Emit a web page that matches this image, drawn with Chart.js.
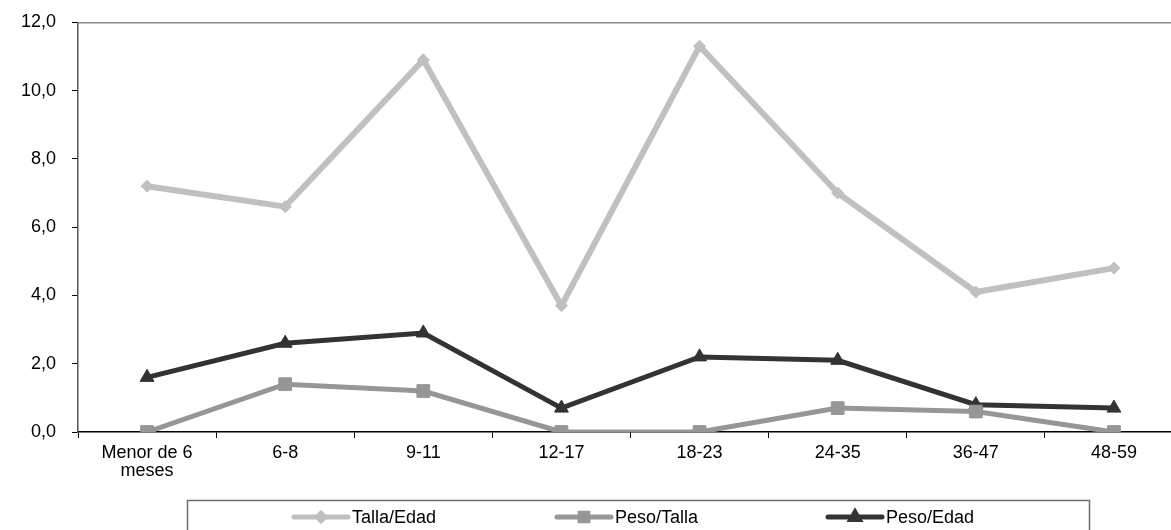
<!DOCTYPE html>
<html>
<head>
<meta charset="utf-8">
<script src="https://cdn.jsdelivr.net/npm/chart.js@4/dist/chart.umd.min.js"></script>
<style>
  html, body { margin: 0; padding: 0; overflow: hidden; background: #fff; }
  #wrap { position: relative; width: 1200px; height: 530px; }
</style>
</head>
<body>
<div id="wrap"><canvas id="c" width="1200" height="530"></canvas></div>
<script>
const categories = [["Menor de 6", "meses"], "6-8", "9-11", "12-17", "18-23", "24-35", "36-47", "48-59"];
const tallaEdad = [7.2, 6.6, 10.9, 3.7, 11.3, 7.0, 4.1, 4.8];
const pesoTalla = [0.0, 1.4, 1.2, 0.0, 0.0, 0.7, 0.6, 0.0];
const pesoEdad = [1.6, 2.6, 2.9, 0.7, 2.2, 2.1, 0.8, 0.7];
const seriesNames = ["Talla/Edad", "Peso/Talla", "Peso/Edad"];
const yTicks = [0, 2, 4, 6, 8, 10, 12];

const FONT = "'Liberation Sans', Arial, sans-serif";

const frame = {
  id: 'frame',
  afterDraw(chart) {
    const { ctx, chartArea } = chart;
    ctx.save();
    ctx.strokeStyle = '#8c8c8c';
    ctx.lineWidth = 1.5;
    ctx.beginPath();
    ctx.moveTo(chartArea.left, chartArea.top + 0.5);
    ctx.lineTo(chartArea.right, chartArea.top + 0.5);
    ctx.stroke();

    const bx = 187, by = 500, bw = 902, bh = 40;
    ctx.strokeStyle = '#6e6e6e';
    ctx.lineWidth = 1.5;
    ctx.strokeRect(bx + 0.5, by + 0.5, bw, bh);

    const items = [
      { x: 292, ds: chart.data.datasets[0] },
      { x: 555, ds: chart.data.datasets[1] },
      { x: 826, ds: chart.data.datasets[2] }
    ];
    const ly = 517;
    ctx.font = '18px ' + FONT;
    ctx.textBaseline = 'middle';
    ctx.textAlign = 'left';
    items.forEach(it => {
      const ds = it.ds;
      ctx.strokeStyle = ds.borderColor;
      ctx.lineWidth = 5;
      ctx.lineCap = 'round';
      ctx.beginPath();
      ctx.moveTo(it.x + 2, ly);
      ctx.lineTo(it.x + 56, ly);
      ctx.stroke();
      ctx.fillStyle = ds.pointBackgroundColor;
      ctx.strokeStyle = ds.pointBorderColor;
      Chart.helpers.drawPoint(ctx, {
        pointStyle: ds.pointStyle,
        radius: ds.pointRadius * 0.6,
        rotation: 0,
        borderWidth: 1
      }, it.x + 29, ly);
      ctx.fillStyle = '#000';
      ctx.fillText(ds.label, it.x + 60, ly + 1);
    });
    ctx.restore();
  }
};

new Chart(document.getElementById('c'), {
  type: 'line',
  data: {
    labels: categories,
    datasets: [
      {
        label: seriesNames[0], data: tallaEdad,
        borderColor: '#c0c0c0', backgroundColor: '#c0c0c0',
        pointBackgroundColor: '#c0c0c0', pointBorderColor: '#c0c0c0',
        borderWidth: 6, pointStyle: 'rectRot', pointRadius: 6, pointBorderWidth: 1,
        tension: 0, fill: false
      },
      {
        label: seriesNames[1], data: pesoTalla,
        borderColor: '#969696', backgroundColor: '#969696',
        pointBackgroundColor: '#969696', pointBorderColor: '#969696',
        borderWidth: 5, pointStyle: 'rect', pointRadius: 9, pointBorderWidth: 1,
        tension: 0, fill: false
      },
      {
        label: seriesNames[2], data: pesoEdad,
        borderColor: '#333333', backgroundColor: '#333333',
        pointBackgroundColor: '#333333', pointBorderColor: '#333333',
        borderWidth: 5, pointStyle: 'triangle', pointRadius: 8, pointBorderWidth: 1,
        tension: 0, fill: false
      }
    ]
  },
  options: {
    responsive: false,
    animation: false,
    events: [],
    layout: { padding: { top: 13, right: 17, left: 0, bottom: 0 } },
    plugins: { legend: { display: false }, tooltip: { enabled: false } },
    scales: {
      x: {
        offset: true,
        grid: { offset: true, drawOnChartArea: false, drawTicks: true, tickLength: 6, color: '#000', lineWidth: 1 },
        border: { display: true, color: '#000', width: 1.5 },
        ticks: { color: '#000', font: { family: FONT, size: 18, lineHeight: 1.0 }, padding: 6, maxRotation: 0, autoSkip: false },
        afterFit(scale) { scale.height = 98; }
      },
      y: {
        min: 0, max: 12,
        afterBuildTicks(scale) { scale.ticks = yTicks.map(v => ({ value: v })); },
        grid: { drawOnChartArea: false, drawTicks: true, tickLength: 6, color: '#000', lineWidth: 1 },
        border: { display: true, color: '#555', width: 1.5 },
        ticks: {
          color: '#000', font: { family: FONT, size: 18, lineHeight: 0.7 }, padding: 16,
          callback: v => v.toFixed(1).replace('.', ',')
        },
        afterFit(scale) { scale.width = 78; }
      }
    }
  },
  plugins: [frame]
});
</script>
</body>
</html>
